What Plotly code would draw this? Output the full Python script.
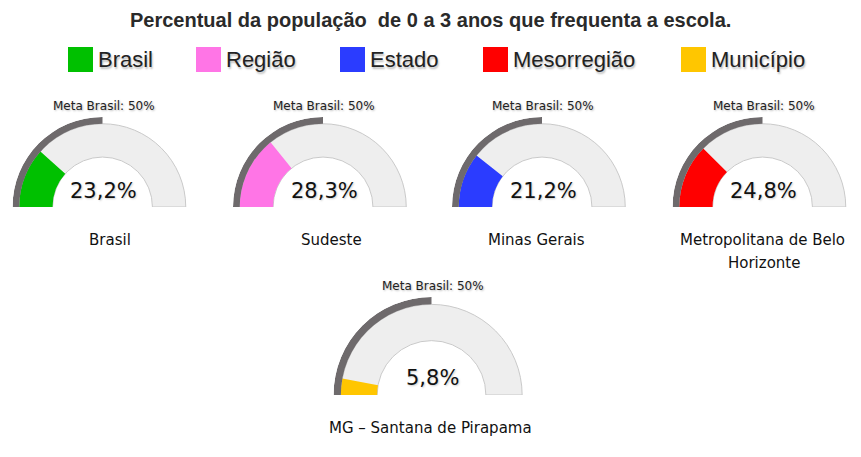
import plotly.graph_objects as go

# ---------------- data ----------------
title_text = "Percentual da população  de 0 a 3 anos que frequenta a escola."
legend_names = ["Brasil", "Região", "Estado", "Mesorregião", "Município"]
legend_colors = ["#00c000", "#ff75e6", "#2b3cff", "#ff0000", "#ffc600"]
gauge_labels = ["Brasil", "Sudeste", "Minas Gerais",
                "Metropolitana de Belo|Horizonte", "MG – Santana de Pirapama"]
gauge_values = [23.2, 28.3, 21.2, 24.8, 5.8]
meta_value = 50
meta_label = "Meta Brasil: 50%"

# ---------------- layout (pixels) ----------------
W, H = 861, 457
gauge_cx = [102.5, 323, 542, 762.5, 431.5]
gauge_cy = [207, 207, 207, 207, 395]
gauge_R = [90, 90, 90, 90, 98]
label_x = [109.5, 331.5, 536.5, 762, 430]
label_y = [240, 240, 240, 240, 428]
swatch_left = [68, 196, 340, 483, 681]
legend_y = 59.5
R_IN, R_OUT = 0.555, 0.925
BAND = "#eeeeee"
META = "#6e6a6c"


def px(x):
    return x / W


def py(y):
    return 1 - y / H


fig = go.Figure()
annotations = []
layout_polars = {}

for i, (v, col) in enumerate(zip(gauge_values, legend_colors)):
    sp = "polar" if i == 0 else f"polar{i+1}"
    cx, cy, R = gauge_cx[i], gauge_cy[i], gauge_R[i]
    # background band
    fig.add_trace(go.Barpolar(
        r=[R_OUT - R_IN], base=[R_IN], theta=[90], width=[180],
        marker=dict(color=BAND, line=dict(color="#c9c9c9", width=1)),
        subplot=sp, showlegend=False, hoverinfo="skip"))
    # value bar
    fig.add_trace(go.Barpolar(
        r=[R_OUT - R_IN], base=[R_IN], theta=[v * 1.8 / 2], width=[v * 1.8],
        marker=dict(color=col, line=dict(width=0)),
        subplot=sp, showlegend=False, name=legend_names[i], hoverinfo="skip"))
    # meta arc
    fig.add_trace(go.Barpolar(
        r=[1 - R_OUT], base=[R_OUT], theta=[meta_value * 1.8 / 2], width=[meta_value * 1.8],
        marker=dict(color=META, line=dict(width=0)),
        subplot=sp, showlegend=False, hoverinfo="skip"))
    layout_polars[sp] = dict(
        domain=dict(x=[px(cx - R), px(cx + R)], y=[py(cy), py(cy - R)]),
        sector=[0, 180],
        bgcolor="rgba(0,0,0,0)",
        radialaxis=dict(range=[0, 1], visible=False, showgrid=False),
        angularaxis=dict(rotation=180, direction="clockwise", visible=False,
                         showgrid=False),
    )
    # texts
    annotations.append(dict(
        x=px(cx + 1), y=py(cy - R - 11), xref="paper", yref="paper",
        text=meta_label, showarrow=False, xanchor="center", yanchor="middle",
        font=dict(family="DejaVu Sans", size=12, color="#222",
                  shadow="1px 1px 2px #bbbbbb")))
    val_txt = f"{v:.1f}".replace(".", ",") + "%"
    annotations.append(dict(
        x=px(cx + 1), y=py(cy - 15 - (1 if i < 4 else 2)), xref="paper", yref="paper",
        text=val_txt, showarrow=False, xanchor="center", yanchor="middle",
        font=dict(family="DejaVu Sans", size=21, color="#111",
                  shadow="1px 1px 2px #cccccc")))
    for k, line in enumerate(gauge_labels[i].split("|")):
        annotations.append(dict(
            x=px(label_x[i] if k == 0 else label_x[i] + 2), y=py(label_y[i] + 23 * k),
            xref="paper", yref="paper",
            text=line, showarrow=False, xanchor="center", yanchor="middle",
            font=dict(family="DejaVu Sans", size=15, color="#111")))

# legend swatches (hidden pixel-space axes)
fig.add_trace(go.Scatter(
    x=[s + 12.5 for s in swatch_left], y=[legend_y] * len(swatch_left),
    mode="markers", marker=dict(symbol="square", size=25, color=legend_colors,
                                line=dict(width=0)),
    showlegend=False, hoverinfo="skip", xaxis="x", yaxis="y"))
for s, name in zip(swatch_left, legend_names):
    annotations.append(dict(
        x=px(s + 28), y=py(legend_y), xref="paper", yref="paper",
        text=name, showarrow=False, xanchor="left", yanchor="middle",
        font=dict(family="Liberation Sans, Arial", size=22, color="#222",
                  shadow="1px 2px 2px #bbbbbb")))

annotations.append(dict(
    x=px(430), y=py(20), xref="paper", yref="paper", text="<b>" + title_text + "</b>",
    showarrow=False, xanchor="center", yanchor="middle",
    font=dict(family="Liberation Sans, Arial", size=20, color="#2a2a2a")))

fig.update_layout(
    width=W, height=H, margin=dict(l=0, r=0, t=0, b=0),
    paper_bgcolor="white", plot_bgcolor="rgba(0,0,0,0)",
    xaxis=dict(range=[0, W], domain=[0, 1], visible=False, fixedrange=True),
    yaxis=dict(range=[H, 0], domain=[0, 1], visible=False, fixedrange=True),
    annotations=annotations,
    showlegend=False,
    **layout_polars,
)

fig.write_html("out.html")
